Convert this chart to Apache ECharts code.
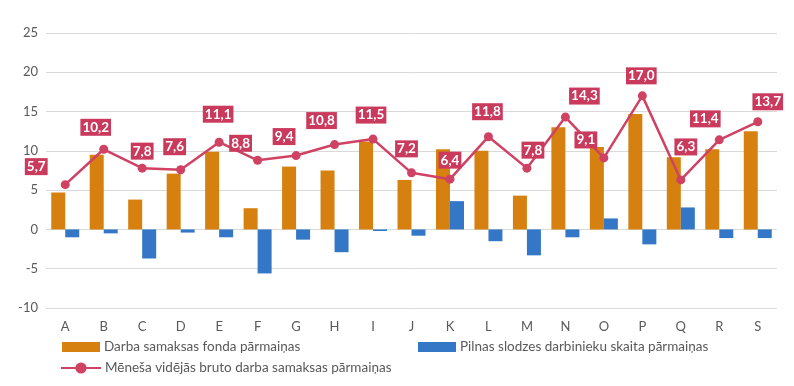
<!DOCTYPE html>
<html>
<head>
<meta charset="utf-8">
<script src="https://cdn.jsdelivr.net/npm/echarts@6/dist/echarts.min.js"></script>
<style>
html,body{margin:0;padding:0;background:#fff;}
#chart{width:794px;height:386px;}
</style>
</head>
<body>
<div id="chart"></div>
<script>
const categories = ['A','B','C','D','E','F','G','H','I','J','K','L','M','N','O','P','Q','R','S'];
const wageFund = [4.7, 9.5, 3.8, 7.1, 9.9, 2.7, 8.0, 7.5, 11.2, 6.3, 10.2, 10.0, 4.3, 13.0, 10.5, 14.7, 9.2, 10.2, 12.5];
const employees = [-1.0, -0.5, -3.7, -0.4, -1.0, -5.6, -1.3, -2.9, -0.2, -0.8, 3.6, -1.5, -3.3, -1.0, 1.4, -1.9, 2.8, -1.1, -1.1];
const avgWage = [5.7, 10.2, 7.8, 7.6, 11.1, 8.8, 9.4, 10.8, 11.5, 7.2, 6.4, 11.8, 7.8, 14.3, 9.1, 17.0, 6.3, 11.4, 13.7];
const seriesNames = ['Darba samaksas fonda pārmaiņas', 'Pilnas slodzes darbinieku skaita pārmaiņas', 'Mēneša vidējās bruto darba samaksas pārmaiņas'];

// label nudges (layout only)
const labelNudge = [[-29,-18],[-8,-22],[0,-17],[-6,-23],[-1,-28],[-17,-17],[-12,-19],[-13,-24],[-2,-24],[-5,-24],[0,-19],[-1,-25],[6,-18],[19,-21],[-18,-18],[-1,-20],[5,-33],[-14,-21],[10,-20]];

const FONT = 'Lato';
const chart = echarts.init(document.getElementById('chart'), null, {renderer:'canvas'});
const lineData = avgWage.map((v,i)=>({value:v, label:{offset:labelNudge[i]}}));
const legendText = {fontFamily:FONT, fontSize:13.5, color:'#595959', padding:[0,0,0,-1]};
chart.setOption({
  animation:false,
  textStyle:{fontFamily:FONT},
  grid:{left:46, right:17, top:33, bottom:78},
  legend:[
    {data:[seriesNames[0]], left:62, top:340, padding:0, icon:'rect', itemWidth:38, itemHeight:10, itemGap:0, textStyle:legendText},
    {data:[seriesNames[1]], left:418, top:340, padding:0, icon:'rect', itemWidth:38, itemHeight:10, itemGap:0, textStyle:legendText},
    {data:[seriesNames[2]], left:60, top:361, padding:0, itemWidth:40, itemHeight:14, itemGap:0, textStyle:legendText}
  ],
  xAxis:{
    type:'category', data:categories, position:'bottom',
    axisLine:{show:false, onZero:false}, axisTick:{show:false},
    axisLabel:{color:'#595959', fontSize:13, margin:12, fontFamily:FONT}
  },
  yAxis:{
    type:'value', min:-10, max:25, interval:5,
    axisLine:{show:false}, axisTick:{show:false},
    axisLabel:{color:'#595959', fontSize:13, margin:8, fontFamily:FONT},
    splitLine:{lineStyle:{color:'#D9D9D9', width:1}}
  },
  series:[
    {name:seriesNames[0], type:'bar', data:wageFund, barWidth:14, barGap:'0%',
     itemStyle:{color:'#D5800F'}},
    {name:seriesNames[1], type:'bar', data:employees, barWidth:14, barGap:'0%',
     itemStyle:{color:'#3477C6'}},
    {name:seriesNames[2], type:'line', data:lineData, z:5,
     symbol:'circle', symbolSize:9,
     lineStyle:{color:'#CF4264', width:2.5},
     itemStyle:{color:'#CF4264'},
     label:{show:true, position:'inside', color:'#fff', fontWeight:'bold', fontSize:13.5, fontFamily:FONT,
       backgroundColor:'#C93A5D', padding:[2,2,1,2],
       formatter:p=>p.value.toFixed(1).replace('.',',')}
    }
  ]
});
</script>
</body>
</html>
